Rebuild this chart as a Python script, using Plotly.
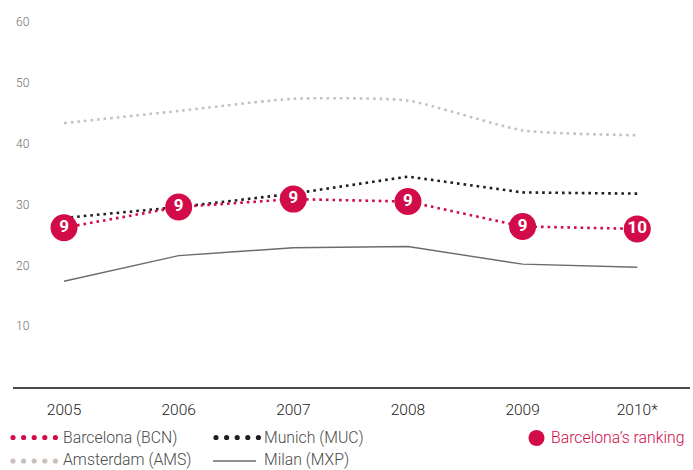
import plotly.graph_objects as go

# Passenger traffic by airport (millions)
years = ["2005", "2006", "2007", "2008", "2009", "2010*"]
barcelona = [26.2, 29.6, 30.9, 30.5, 26.4, 26.0]
munich = [27.8, 29.6, 31.8, 34.6, 32.0, 31.8]
amsterdam = [43.4, 45.4, 47.4, 47.1, 42.2, 41.4]
milan = [17.4, 21.6, 22.9, 23.1, 20.2, 19.7]
bcn_rank = [9, 9, 9, 9, 9, 10]

yticks = [10, 20, 30, 40, 50, 60]

RED = "#D20C48"
BLACK = "#1f1f1f"
BEIGE = "#C9C0BD"
GREY = "#6b6b6b"
FONT = "Roboto"

W, H = 693, 470
ML, MR, MT, MB = 13, 3, 10, 83
PW, PH = W - ML - MR, H - MT - MB


def px(x):
    return (x - ML) / PW


def py(y):
    return (H - MB - y) / PH


fig = go.Figure()

fig.add_trace(go.Scatter(
    x=years, y=amsterdam, mode="lines",
    line=dict(color=BEIGE, width=2.6, dash="2.6px,4px",
              shape="spline", smoothing=0.55),
    hoverinfo="skip"))
fig.add_trace(go.Scatter(
    x=years, y=milan, mode="lines",
    line=dict(color=GREY, width=1.4), hoverinfo="skip"))
fig.add_trace(go.Scatter(
    x=years, y=munich, mode="lines",
    line=dict(color=BLACK, width=2.6, dash="2.6px,4px"), hoverinfo="skip"))
fig.add_trace(go.Scatter(
    x=years, y=barcelona, mode="lines+markers+text",
    line=dict(color=RED, width=2.6, dash="2.6px,4px"),
    marker=dict(size=27, color=RED, line=dict(width=0)),
    text=[str(r) for r in bcn_rank], textposition="middle center",
    textfont=dict(color="white", size=17, family=FONT, weight=700),
    hoverinfo="skip"))

# Legend drawn below the axis
shapes = []
annotations = []
legend_rows = [437.5, 459.5]


def dots(x0, yc, color, n=5, step=10.6, d=5.2):
    for i in range(n):
        cx = x0 + i * step
        shapes.append(dict(type="circle", xref="paper", yref="paper",
                           x0=px(cx - d / 2), x1=px(cx + d / 2),
                           y0=py(yc + d / 2), y1=py(yc - d / 2),
                           fillcolor=color, line=dict(width=0)))


def label(x, yc, txt, color="#4a4a4a"):
    annotations.append(dict(xref="paper", yref="paper", x=px(x), y=py(yc),
                            text=txt, showarrow=False, xanchor="left",
                            yanchor="middle", xshift=-1, borderpad=0,
                            font=dict(family=FONT, size=15.8, color=color,
                                      weight=300)))


dots(13, legend_rows[0], RED)
label(63, legend_rows[0], "Barcelona (BCN)")
dots(216, legend_rows[0], BLACK)
label(264, legend_rows[0], "Munich (MUC)")
dots(13, legend_rows[1] + 1.5, BEIGE)
label(63, legend_rows[1], "Amsterdam (AMS)")
shapes.append(dict(type="line", xref="paper", yref="paper",
                   x0=px(213), x1=px(256), y0=py(legend_rows[1] + 1.5),
                   y1=py(legend_rows[1] + 1.5),
                   line=dict(color=GREY, width=1.4)))
label(264, legend_rows[1], "Milan (MXP)")
shapes.append(dict(type="circle", xref="paper", yref="paper",
                   x0=px(528.5), x1=px(544.5), y0=py(446), y1=py(430),
                   fillcolor=RED, line=dict(width=0)))
label(551, legend_rows[0], "Barcelona’s ranking", color=RED)

fig.update_layout(
    width=W, height=H,
    margin=dict(l=ML, r=MR, t=MT, b=MB),
    paper_bgcolor="white", plot_bgcolor="white",
    showlegend=False,
    shapes=shapes, annotations=annotations,
    xaxis=dict(type="category", range=[-0.445, 5.46],
               showgrid=False, zeroline=False,
               showline=True, linecolor="#4a4a4a", linewidth=1.5,
               ticks="", ticklabelstandoff=8,
               tickfont=dict(family=FONT, size=15.5, color="#222222",
                             weight=300)),
    yaxis=dict(range=[0, 62], tickvals=yticks,
               showgrid=False, zeroline=False, showline=False,
               ticklabelposition="inside", ticks="",
               tickfont=dict(family=FONT, size=12, color="#707070",
                             weight=300)),
)

fig.write_html("out.html")
